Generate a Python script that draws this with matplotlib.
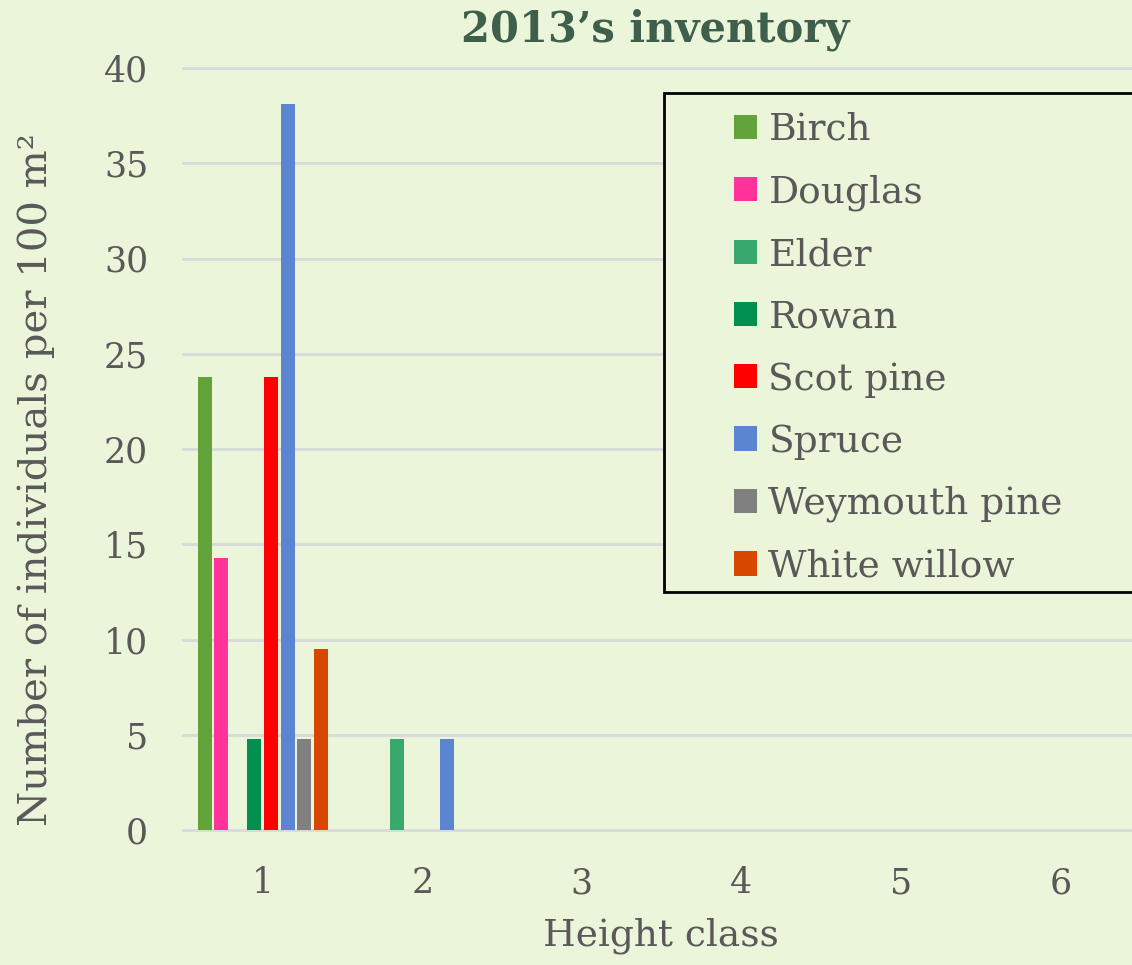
import numpy as np
import matplotlib
matplotlib.use("Agg")
import matplotlib.pyplot as plt
from matplotlib.patches import Rectangle

# data
classes = [1, 2, 3, 4, 5, 6]
species = ["Birch", "Douglas", "Elder", "Rowan", "Scot pine", "Spruce",
           "Weymouth pine", "White willow"]
birch = [23.8, 0, 0, 0, 0, 0]
douglas = [14.3, 0, 0, 0, 0, 0]
elder = [0, 4.76, 0, 0, 0, 0]
rowan = [4.76, 0, 0, 0, 0, 0]
scot_pine = [23.8, 0, 0, 0, 0, 0]
spruce = [38.1, 4.76, 0, 0, 0, 0]
weymouth = [4.76, 0, 0, 0, 0, 0]
white_willow = [9.52, 0, 0, 0, 0, 0]
colors = ["#62A33A", "#FF3399", "#38A86F", "#008F4F", "#FF0000", "#5B84D1",
          "#808080", "#D84700"]

series = [birch, douglas, elder, rowan, scot_pine, spruce, weymouth, white_willow]

bg = "#EBF5DA"
txt = "#595959"
plt.rcParams['font.family'] = ['DejaVu Serif']

W, H = 1132, 965
fig = plt.figure(figsize=(W / 100, H / 100), dpi=100, facecolor=bg)
ax = fig.add_axes([183 / W, 1 - 830 / H, (1140 - 183) / W, (830 - 68) / H])
ax.set_facecolor(bg)

pitch = 0.104
width = 0.088
x = np.array(classes, dtype=float)
for i, (vals, c, name) in enumerate(zip(series, colors, species)):
    ax.bar(x + (i - 3.5) * pitch, vals, width, color=c, label=name, zorder=3)

ax.set_xlim(0.5, 6.5)
ax.set_ylim(0, 40)
ax.set_yticks(range(0, 41, 5))
ax.set_xticks(classes)
ax.grid(axis='y', color='#D9D9D9', linewidth=2, zorder=0, clip_on=False)
for s in ax.spines.values():
    s.set_visible(False)
ax.tick_params(length=0, labelsize=25, colors=txt)
ax.tick_params(axis='y', pad=25)
ax.tick_params(axis='x', pad=26)

ax.set_ylabel("Number of individuals per 100 m²", fontsize=29, color=txt)
ax.yaxis.set_label_coords((55 - 183) / (1140 - 183), (830 - 480) / (830 - 68))
ax.set_xlabel("Height class", fontsize=27, color=txt)
ax.xaxis.set_label_coords((661 - 183) / (1140 - 183), -(918 - 830) / (830 - 68))

fig.text(655 / W, 1 - 30 / H, "2013’s inventory", ha='center', va='center',
         fontsize=30, fontweight='bold', color="#3F5F4C")

# legend box
fig.patches.append(Rectangle((664 / W, 1 - 592 / H), (1140 - 664) / W, (592 - 93) / H,
                             transform=fig.transFigure, facecolor=bg,
                             edgecolor='black', linewidth=2, zorder=5))
leg = fig.legend(loc='upper left', bbox_to_anchor=(719 / W, 1 - 97 / H),
                 frameon=False, fontsize=27, handlelength=0.62, handleheight=0.62,
                 handletextpad=0.3, labelspacing=0.70, borderaxespad=0)
leg.set_zorder(6)
for t in leg.get_texts():
    t.set_color(txt)

fig.savefig("out.png", dpi=100, facecolor=bg)
